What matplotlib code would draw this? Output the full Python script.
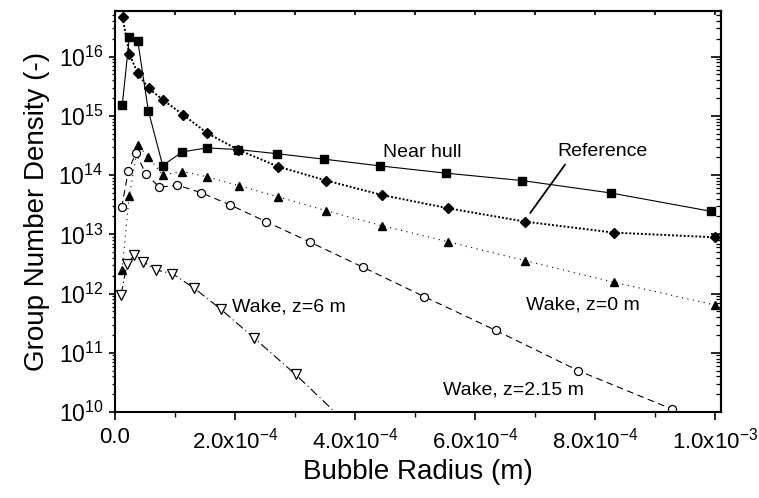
import numpy as np
import matplotlib
matplotlib.use('Agg')
import matplotlib.pyplot as plt
from matplotlib.ticker import FuncFormatter, MultipleLocator, LogLocator, NullFormatter

plt.rcParams['font.family'] = ['Liberation Sans', 'DejaVu Sans']
plt.rcParams['mathtext.default'] = 'regular'

# bubble radius (m) and group number density (-) per measurement location
hull_r = [0.12e-4, 0.24e-4, 0.38e-4, 0.555e-4, 0.795e-4, 1.12e-4, 1.53e-4, 2.05e-4,
          2.70e-4, 3.48e-4, 4.42e-4, 5.51e-4, 6.78e-4, 8.26e-4, 9.93e-4]
hull_n = [1.5e15, 2.15e16, 1.83e16, 1.23e15, 1.45e14, 2.46e14, 2.88e14, 2.7e14,
          2.3e14, 1.86e14, 1.43e14, 1.08e14, 8.1e13, 5.0e13, 2.45e13]

ref_r = [0.125e-4, 0.24e-4, 0.38e-4, 0.563e-4, 0.805e-4, 1.133e-4, 1.538e-4, 2.055e-4,
         2.72e-4, 3.52e-4, 4.455e-4, 5.55e-4, 6.83e-4, 8.31e-4, 10.0e-4]
ref_n = [4.6e16, 1.11e16, 5.2e15, 2.9e15, 1.84e15, 1.05e15, 5.1e14, 2.67e14,
         1.39e14, 8.1e13, 4.6e13, 2.76e13, 1.64e13, 1.07e13, 8.9e12]

wake0_r = [0.117e-4, 0.237e-4, 0.383e-4, 0.555e-4, 0.797e-4, 1.117e-4, 1.528e-4, 2.07e-4,
           2.72e-4, 3.52e-4, 4.45e-4, 5.55e-4, 6.83e-4, 8.32e-4, 10.0e-4]
wake0_n = [2.5e12, 4.4e13, 3.2e14, 2.03e14, 1.0e14, 1.15e14, 9.4e13, 6.6e13,
           4.3e13, 2.5e13, 1.4e13, 7.5e12, 3.6e12, 1.55e12, 6.4e11]

wake215_r = [0.112e-4, 0.222e-4, 0.347e-4, 0.513e-4, 0.738e-4, 1.038e-4, 1.433e-4, 1.917e-4,
             2.517e-4, 3.25e-4, 4.128e-4, 5.15e-4, 6.342e-4, 7.72e-4, 9.29e-4]
wake215_n = [2.85e13, 1.19e14, 2.34e14, 1.06e14, 6.25e13, 6.76e13, 5.06e13, 3.14e13,
             1.64e13, 7.4e12, 2.8e12, 8.9e11, 2.4e11, 5.0e10, 1.11e10]

wake6_r = [0.1e-4, 0.2e-4, 0.322e-4, 0.467e-4, 0.683e-4, 0.958e-4, 1.322e-4, 1.767e-4,
           2.322e-4, 3.01e-4, 3.8e-4]
wake6_n = [9.5e11, 3.1e12, 4.5e12, 3.46e12, 2.5e12, 2.16e12, 1.23e12, 5.4e11,
           1.76e11, 4.3e10, 7.4e9]


def fmt_x(v, pos):
    if abs(v) < 1e-12:
        return '0.0'
    exp = int(np.floor(np.log10(abs(v)) + 1e-9))
    return '%.1fx10$^{%d}$' % (v / 10 ** exp, exp)


fig = plt.figure(figsize=(7.59, 4.98), dpi=100)
ax = fig.add_axes([115 / 759, 86 / 498, 606 / 759, 401 / 498])

ax.plot(hull_r, hull_n, '-', color='black', lw=0.8, marker='s', ms=5.2, mfc='black', mec='black')
ax.plot(ref_r, ref_n, color='black', lw=1.4, ls=(0, (1, 1)), marker='D', ms=4.8, mfc='black', mec='black')
ax.plot(wake0_r, wake0_n, color='black', lw=0.8, ls=(0, (1, 4)), marker='^', ms=6.2, mfc='black', mec='black')
ax.plot(wake215_r, wake215_n, color='black', lw=0.8, ls=(0, (6, 4)), marker='o', ms=5.8, mfc='white',
        mec='black', mew=0.9)
ax.plot(wake6_r, wake6_n, color='black', lw=0.8, ls=(0, (8, 3, 1, 3)), marker='v', ms=6.5, mfc='white',
        mec='black', mew=0.9)

ax.set_yscale('log')
ax.set_xlim(0, 1.01e-3)
ax.set_ylim(1e10, 5.9e16)

ax.xaxis.set_major_locator(MultipleLocator(2e-4))
ax.xaxis.set_minor_locator(MultipleLocator(1e-4))
ax.xaxis.set_major_formatter(FuncFormatter(fmt_x))
ax.yaxis.set_major_locator(LogLocator(base=10, numticks=20))
ax.yaxis.set_minor_locator(LogLocator(base=10, subs=np.arange(2, 10), numticks=20))

ax.tick_params(axis='x', which='major', direction='out', length=6, width=1.2, labelsize=16, pad=5)
ax.tick_params(axis='x', which='minor', direction='out', length=3.5, width=1.0)
ax.tick_params(axis='y', which='major', direction='out', length=4.3, width=1.2, labelsize=16.5, pad=4)
ax.tick_params(axis='y', which='minor', direction='out', length=2.2, width=0.9)
for s in ax.spines.values():
    s.set_linewidth(1.5)

top = ax.secondary_xaxis('top')
top.xaxis.set_major_locator(MultipleLocator(1e-4))
top.xaxis.set_major_formatter(NullFormatter())
top.tick_params(direction='in', length=3, width=1.2)
top.spines['top'].set_linewidth(1.5)

right = ax.secondary_yaxis('right')
right.yaxis.set_major_locator(LogLocator(base=10, numticks=20))
right.yaxis.set_minor_locator(LogLocator(base=10, subs=np.arange(2, 10), numticks=20))
right.yaxis.set_major_formatter(NullFormatter())
right.yaxis.set_minor_formatter(NullFormatter())
right.tick_params(which='major', direction='in', length=7, width=1.2)
right.tick_params(which='minor', direction='in', length=3.5, width=0.9)
right.spines['right'].set_linewidth(1.5)

ax.set_xlabel('Bubble Radius (m)', fontsize=20, labelpad=4)
ax.set_ylabel('Group Number Density (-)', fontsize=20, labelpad=6)

ax.text(5.125e-4, 2.06e14, 'Near hull', fontsize=14, ha='center', va='baseline')
ax.annotate('Reference', xy=(6.92e-4, 2.29e13), xytext=(8.133e-4, 2.14e14), fontsize=14,
            ha='center', va='baseline',
            arrowprops=dict(arrowstyle='-', color='black', lw=1.3, relpos=(0.12, 0), shrinkA=2, shrinkB=0))
ax.text(7.79e-4, 5.28e11, 'Wake, z=0 m', fontsize=14, ha='center', va='baseline')
ax.text(6.633e-4, 1.94e10, 'Wake, z=2.15 m', fontsize=14, ha='center', va='baseline')
ax.text(1.945e-4, 4.94e11, 'Wake, z=6 m', fontsize=14, ha='left', va='baseline')

plt.savefig('out.png', dpi=100)
